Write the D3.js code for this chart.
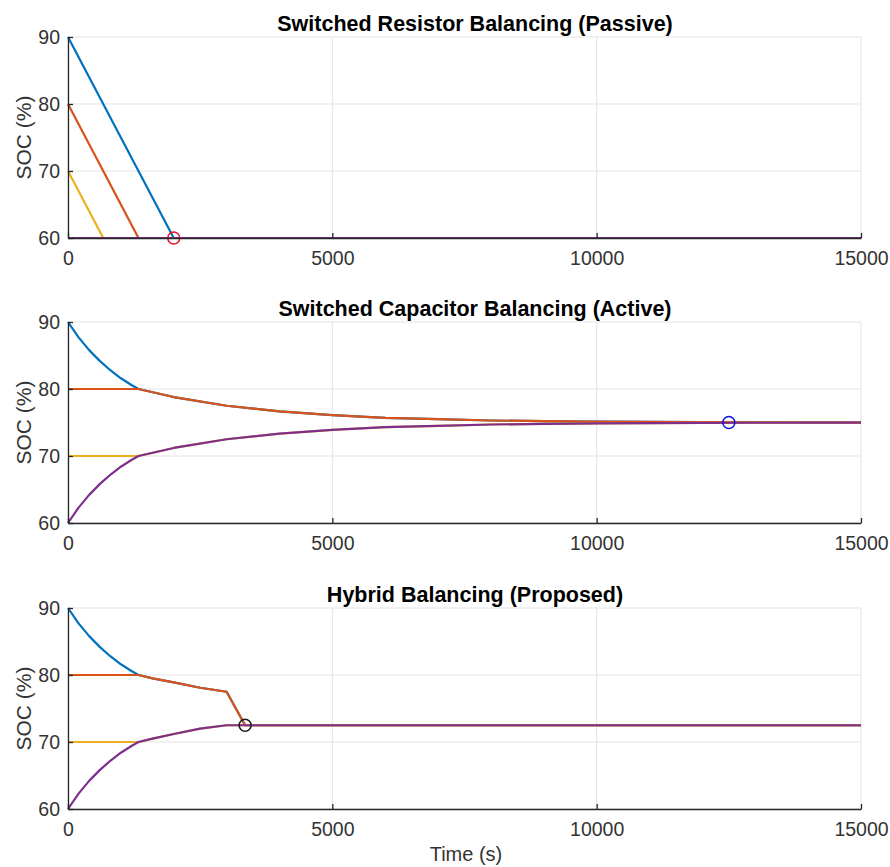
<!DOCTYPE html>
<html>
<head>
<meta charset="utf-8">
<script src="https://cdn.jsdelivr.net/npm/d3@7"></script>
<style>
  body { margin: 0; background: #fff; }
  svg { display: block; font-family: "Liberation Sans", Arial, sans-serif; }
</style>
</head>
<body>
<svg id="chart" width="890" height="867"></svg>
<script>
"use strict";

// ---- data ----
const cellColors = ["#0072BD", "#D95319", "#EDB120", "#7E2F8E"];
const xTicks = [0, 5000, 10000, 15000];
const yTicks = [60, 70, 80, 90];
const titles = [
  "Switched Resistor Balancing (Passive)",
  "Switched Capacitor Balancing (Active)",
  "Hybrid Balancing (Proposed)"
];

// passive: each cell has its own breakpoints
const passiveTime1 = [0, 2000, 15000];
const passiveCell1 = [90, 60, 60];
const passiveTime2 = [0, 1333, 15000];
const passiveCell2 = [80, 60, 60];
const passiveTime3 = [0, 667, 15000];
const passiveCell3 = [70, 60, 60];
const passiveTime4 = [0, 15000];
const passiveCell4 = [60, 60];
const passiveMarker = [2000, 60];

// active
const activeTime = [0, 200, 400, 600, 800, 1000, 1200, 1333, 2000, 3000, 4000, 5000,
  6000, 7000, 8000, 9000, 10000, 11000, 12000, 13000, 14000, 15000];
const activeCell1 = [90, 87.7, 85.8, 84.2, 82.8, 81.6, 80.6, 80, 78.8, 77.5, 76.65, 76.1,
  75.7, 75.5, 75.3, 75.2, 75.14, 75.09, 75.06, 75.04, 75.03, 75.02];
const activeCell2 = [80, 80, 80, 80, 80, 80, 80, 80, 78.8, 77.5, 76.65, 76.1,
  75.7, 75.5, 75.3, 75.2, 75.14, 75.09, 75.06, 75.04, 75.03, 75.02];
const activeCell3 = [70, 70, 70, 70, 70, 70, 70, 70, 71.2, 72.5, 73.35, 73.9,
  74.3, 74.5, 74.7, 74.8, 74.86, 74.91, 74.94, 74.96, 74.97, 74.98];
const activeCell4 = [60, 62.3, 64.2, 65.8, 67.2, 68.4, 69.4, 70, 71.2, 72.5, 73.35, 73.9,
  74.3, 74.5, 74.7, 74.8, 74.86, 74.91, 74.94, 74.96, 74.97, 74.98];
const activeMarker = [12500, 75];

// hybrid
const hybridTime = [0, 200, 400, 600, 800, 1000, 1200, 1333, 1600, 2000, 2500, 3000,
  3350, 5000, 10000, 15000];
const hybridCell1 = [90, 87.7, 85.8, 84.2, 82.8, 81.6, 80.6, 80, 79.5, 78.9, 78.1, 77.5,
  72.5, 72.5, 72.5, 72.5];
const hybridCell2 = [80, 80, 80, 80, 80, 80, 80, 80, 79.5, 78.9, 78.1, 77.5,
  72.5, 72.5, 72.5, 72.5];
const hybridCell3 = [70, 70, 70, 70, 70, 70, 70, 70, 70.5, 71.2, 72.0, 72.5,
  72.5, 72.5, 72.5, 72.5];
const hybridCell4 = [60, 62.3, 64.2, 65.8, 67.2, 68.4, 69.4, 70, 70.5, 71.2, 72.0, 72.5,
  72.5, 72.5, 72.5, 72.5];
const hybridMarker = [3350, 72.5];

const zip = (t, v) => t.map((d, i) => ({ t: d, v: v[i] }));

const panels = [
  {
    series: [zip(passiveTime1, passiveCell1), zip(passiveTime2, passiveCell2),
             zip(passiveTime3, passiveCell3), zip(passiveTime4, passiveCell4)],
    marker: passiveMarker, markerColor: "#E8102E"
  },
  {
    series: [zip(activeTime, activeCell1), zip(activeTime, activeCell2),
             zip(activeTime, activeCell3), zip(activeTime, activeCell4)],
    marker: activeMarker, markerColor: "#1010E0"
  },
  {
    series: [zip(hybridTime, hybridCell1), zip(hybridTime, hybridCell2),
             zip(hybridTime, hybridCell3), zip(hybridTime, hybridCell4)],
    marker: hybridMarker, markerColor: "#1a1a1a"
  }
];

// ---- layout ----
const left = 68, right = 861;
const tops = [37, 322, 608];
const plotH = 201;
const axisColor = "#262626";

const svg = d3.select("#chart");

const x = d3.scaleLinear().domain([0, 15000]).range([left, right]);

panels.forEach((p, k) => {
  const top = tops[k];
  const y = d3.scaleLinear().domain([60, 90]).range([top + plotH, top]);
  const g = svg.append("g");

  // grid
  g.append("g").selectAll("line.gx").data(xTicks).join("line")
    .attr("x1", (d) => x(d)).attr("x2", (d) => x(d))
    .attr("y1", top).attr("y2", top + plotH)
    .attr("stroke", "#e3e3e3").attr("stroke-width", 1);
  g.append("g").selectAll("line.gy").data(yTicks).join("line")
    .attr("x1", left).attr("x2", right)
    .attr("y1", (d) => y(d)).attr("y2", (d) => y(d))
    .attr("stroke", "#e3e3e3").attr("stroke-width", 1);

  // lines
  const line = d3.line().x((d) => x(d.t)).y((d) => y(d.v));
  p.series.forEach((s, i) => {
    g.append("path").datum(s)
      .attr("fill", "none")
      .attr("stroke", cellColors[i])
      .attr("stroke-width", 2.2)
      .attr("stroke-linejoin", "round")
      .attr("d", line);
  });

  // marker
  g.append("circle")
    .attr("cx", x(p.marker[0])).attr("cy", y(p.marker[1]))
    .attr("r", 6)
    .attr("fill", "none")
    .attr("stroke", p.markerColor)
    .attr("stroke-width", 1.5);

  // axes
  const xAxis = g.append("g")
    .attr("transform", `translate(0,${top + plotH})`)
    .call(d3.axisBottom(x).tickValues(xTicks).tickSizeInner(-5).tickSizeOuter(0)
      .tickPadding(13).tickFormat(d3.format("d")));
  const yAxis = g.append("g")
    .attr("transform", `translate(${left},0)`)
    .call(d3.axisLeft(y).tickValues(yTicks).tickSizeInner(-5).tickSizeOuter(0)
      .tickPadding(8));
  [xAxis, yAxis].forEach((a) => {
    a.select(".domain").attr("stroke", axisColor).attr("stroke-width", 1.3);
    a.selectAll(".tick line").attr("stroke", axisColor).attr("stroke-width", 1.3);
    a.selectAll(".tick text").attr("fill", "#333").attr("font-size", 19.5)
      .attr("font-family", "Liberation Sans, Arial, sans-serif");
  });

  // title
  svg.append("text")
    .attr("x", 475)
    .attr("y", top - 6)
    .attr("text-anchor", "middle")
    .attr("font-size", 21.5)
    .attr("font-weight", "bold")
    .attr("fill", "#000")
    .text(titles[k]);

  // y label
  svg.append("text")
    .attr("transform", `translate(23,${top + plotH / 2}) rotate(-90)`)
    .attr("text-anchor", "middle")
    .attr("dominant-baseline", "central")
    .attr("font-size", 21)
    .attr("fill", "#333")
    .text("SOC (%)");
});

// x label
svg.append("text")
  .attr("x", 466)
  .attr("y", 861)
  .attr("text-anchor", "middle")
  .attr("font-size", 20)
  .attr("fill", "#333")
  .text("Time (s)");
</script>
</body>
</html>
